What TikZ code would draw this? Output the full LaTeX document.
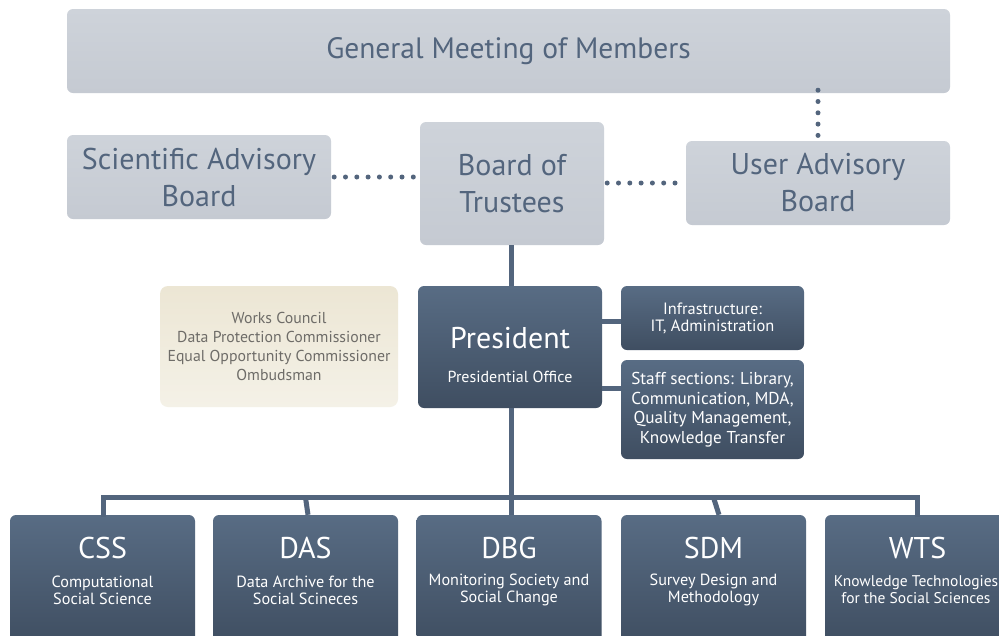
\documentclass[tikz,border=0pt]{standalone}
\usepackage{fontspec}
\setmainfont{PT Sans}
\definecolor{lighttop}{HTML}{CED3DA}
\definecolor{lightbot}{HTML}{C5CAD2}
\definecolor{darktop}{HTML}{586C84}
\definecolor{darkbot}{HTML}{3F4E61}
\definecolor{slate}{HTML}{53657D}
\definecolor{beigetop}{HTML}{ECE6D4}
\definecolor{beigebot}{HTML}{F4F1E7}
\definecolor{beigetext}{HTML}{6E6C68}
\begin{document}
\begin{tikzpicture}[x=1pt,y=-1pt,
  lightbox/.style={rectangle, rounded corners=6pt, top color=lighttop, bottom color=lightbot, draw=none,
     text=slate, align=center, inner sep=0pt},
  darkbox/.style={rectangle, rounded corners=6pt, top color=darktop, bottom color=darkbot, draw=none,
     text=white, align=center, inner sep=0pt},
  beigebox/.style={rectangle, rounded corners=8pt, top color=beigetop, bottom color=beigebot, draw=none,
     text=beigetext, align=center, inner sep=0pt},
  whitetext/.style={text=white, align=center, inner sep=0pt},
  link/.style={draw=slate, line width=5pt},
  dotlink/.style={draw=slate, line width=5pt, line cap=round, dash pattern=on 0pt off 11.3pt},
  bigfont/.style={font=\fontsize{30}{37}\selectfont},
  titlefont/.style={font=\fontsize{30}{34}\selectfont},
  subfont/.style={font=\fontsize{16.2}{17}\selectfont},
  unit/.style={darkbox, minimum width=185pt, minimum height=130pt},
]
\useasboundingbox (0,0) rectangle (999,635);
\fill[white] (0,0) rectangle (999,635);

% top boxes
\node[lightbox, minimum width=883pt, minimum height=84pt, font=\fontsize{29.5}{32}\selectfont] (gm) at (508.5,51) {General Meeting of Members};
\node[lightbox, minimum width=264pt, minimum height=84pt, bigfont] (sab) at (199,177) {Scientific Advisory\\Board};
\node[lightbox, minimum width=184pt, minimum height=123pt, bigfont] (bot) at (512,183.5) {Board of\\Trustees};
\node[lightbox, minimum width=264pt, minimum height=84pt, bigfont] (uab) at (818,183) {User Advisory\\Board};

% middle
\node[beigebox, minimum width=238pt, minimum height=121pt, font=\fontsize{15.8}{19}\selectfont] (wc) at (279,346.5) {Works Council\\Data Protection Commissioner\\Equal Opportunity Commissioner\\Ombudsman};
\node[darkbox, minimum width=184pt, minimum height=122pt] (pres) at (510,347) {};
\node[whitetext, titlefont] (prestitle) at (510,338) {President};
\node[whitetext, font=\fontsize{16}{18}\selectfont] (presoffice) at (510,377) {Presidential Office};
\node[darkbox, minimum width=183pt, minimum height=64pt, font=\fontsize{16.4}{17}\selectfont] (infra) at (712.5,318) {Infrastructure:\\IT, Administration};
\node[darkbox, minimum width=183pt, minimum height=99pt, font=\fontsize{17.2}{19.6}\selectfont] (staff) at (712.5,409.5) {Staff sections: Library,\\Communication, MDA,\\Quality Management,\\Knowledge Transfer};

% bottom units
\node[unit] (css) at (102.5,580) {};
\node[unit] (das) at (305.5,580) {};
\node[unit] (dbg) at (509,580) {};
\node[unit] (sdm) at (713.5,580) {};
\node[unit] (wts) at (917.5,580) {};
\node[whitetext, titlefont] (csst) at (102.5,548) {CSS};
\node[whitetext, titlefont] (dast) at (305.5,548) {DAS};
\node[whitetext, titlefont] (dbgt) at (509,548) {DBG};
\node[whitetext, titlefont] (sdmt) at (713.5,548) {SDM};
\node[whitetext, titlefont] (wtst) at (917.5,548) {WTS};
\node[whitetext, subfont] (csss) at (102.5,590) {Computational\\Social Science};
\node[whitetext, subfont] (dass) at (305.5,590) {Data Archive for the\\Social Scineces};
\node[whitetext, subfont] (dbgs) at (509,590) {Monitoring Society and\\Social Change};
\node[whitetext, subfont] (sdms) at (713.5,590) {Survey Design and\\Methodology};
\node[whitetext, font=\fontsize{15.5}{17}\selectfont] (wtss) at (916,590) {Knowledge Technologies\\for the Social Sciences};

% dotted links
\draw[dotlink] ([xshift=3pt]sab.east) -- ([xshift=-2pt]bot.west |- sab.east);
\draw[dotlink] ([xshift=3pt]bot.east |- uab.west) -- ([xshift=-2pt]uab.west);
\draw[dotlink] ([yshift=3pt]gm.south -| uab.north) -- ([yshift=-2pt]uab.north);

% solid links
\coordinate (bus) at (511,497.5);
\draw[link] (bot.south -| 511,0) -- (pres.north -| 511,0);
\draw[link] (pres.south -| 511,0) -- (bus);
\draw[link] (pres.east |- 0,321) -- (infra.west |- 0,321);
\draw[link] (pres.east |- 0,388) -- (staff.west |- 0,388);
\draw[link, line cap=rect] (css.north -| 103,0) |- (wts.north |- bus) -- (wts.north);
\draw[link] (das.north -| 308,0) -- (das.north |- bus);
\draw[link] (dbg.north -| 511,0) -- (bus);
\draw[link] (sdm.north -| 719,0) -- (sdm.north |- bus);
\end{tikzpicture}
\end{document}
